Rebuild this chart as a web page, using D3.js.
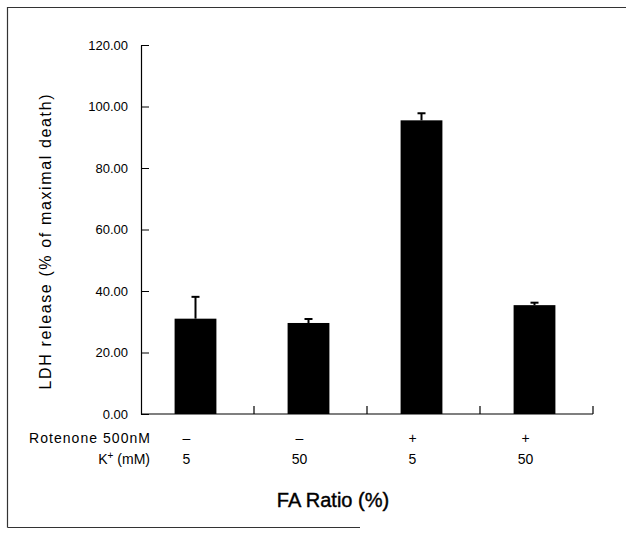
<!DOCTYPE html>
<html>
<head>
<meta charset="utf-8">
<script src="https://cdn.jsdelivr.net/npm/d3@7"></script>
<style>
  body { margin: 0; background: #fff; }
  text { font-family: "Liberation Sans", Arial, sans-serif; fill: #000; }
</style>
</head>
<body>
<div id="chart"></div>
<script>
// data
let groups = ["g1", "g2", "g3", "g4"];
let values = [31.0, 29.6, 95.5, 35.4];
let errors = [7.1, 1.3, 2.3, 0.8];
let rotenone = ["\u2013", "\u2013", "+", "+"];
let potassium = ["5", "50", "5", "50"];
let yTicks = [0, 20, 40, 60, 80, 100, 120];

let W = 626, H = 533;
let margin = {top: 45, left: 141, right: 33, bottom: 119};

let svg = d3.select("#chart").append("svg")
    .attr("width", W)
    .attr("height", H);

// page frame (left, top, partial bottom)
svg.append("path")
    .attr("d", "M7.5,527.5 V7.5 H626 M7.5,527.5 H360")
    .attr("fill", "none")
    .attr("stroke", "#333")
    .attr("stroke-width", 1.2);

// scales
let y = d3.scaleLinear().domain([0, 120]).range([H - margin.bottom, margin.top]);
let x = d3.scaleBand().domain(groups).range([margin.left, W - margin.right]).padding(0);
let barW = x.bandwidth() * 0.37;

// y axis, ticks point inward
let yAxis = svg.append("g")
    .attr("transform", "translate(" + margin.left + ",0)")
    .call(d3.axisLeft(y).tickValues(yTicks).tickSizeInner(-8).tickSizeOuter(0)
        .tickPadding(13).tickFormat(d3.format(".2f")));
yAxis.selectAll("text").style("font-size", "13px");
yAxis.select(".domain").attr("stroke-width", 1.2);

// x axis with upward ticks at group boundaries
let x0 = y(0);
svg.append("line")
    .attr("x1", margin.left).attr("x2", W - margin.right)
    .attr("y1", x0).attr("y2", x0)
    .attr("stroke", "#000").attr("stroke-width", 1.2);
svg.selectAll(".xtick").data(groups).enter().append("line")
    .attr("class", "xtick")
    .attr("x1", d => x(d) + x.step()).attr("x2", d => x(d) + x.step())
    .attr("y1", x0).attr("y2", x0 - 8)
    .attr("stroke", "#000").attr("stroke-width", 1.2);

// bars
let cx = d => x(d) + x.bandwidth() / 2 - 2;
svg.selectAll(".bar").data(groups).enter().append("rect")
    .attr("class", "bar")
    .attr("x", d => cx(d) - barW / 2)
    .attr("width", barW)
    .attr("y", (d, i) => y(values[i]))
    .attr("height", (d, i) => y(0) - y(values[i]))
    .attr("fill", "#000");

// one-sided error bars
let err = svg.selectAll(".err").data(groups).enter().append("g").attr("class", "err");
err.append("line")
    .attr("x1", cx).attr("x2", cx)
    .attr("y1", (d, i) => y(values[i]))
    .attr("y2", (d, i) => y(values[i] + errors[i]))
    .attr("stroke", "#000").attr("stroke-width", 2);
err.append("line")
    .attr("x1", d => cx(d) - 4).attr("x2", d => cx(d) + 4)
    .attr("y1", (d, i) => y(values[i] + errors[i]))
    .attr("y2", (d, i) => y(values[i] + errors[i]))
    .attr("stroke", "#000").attr("stroke-width", 2);

// condition rows under the axis
svg.append("text").attr("x", 150).attr("y", 443)
    .attr("text-anchor", "end").style("font-size", "14px")
    .attr("textLength", 121).attr("lengthAdjust", "spacing")
    .text("Rotenone 500nM");
let kLab = svg.append("text").attr("x", 150).attr("y", 464)
    .attr("text-anchor", "end").style("font-size", "14px");
kLab.append("tspan").text("K");
kLab.append("tspan").attr("dy", -5).style("font-size", "10px").text("+");
kLab.append("tspan").attr("dy", 5).text(" (mM)");

svg.selectAll(".rot").data(groups).enter().append("text")
    .attr("class", "rot")
    .attr("x", d => cx(d) - 9).attr("y", 443)
    .attr("text-anchor", "middle").style("font-size", "14px")
    .text((d, i) => rotenone[i]);
svg.selectAll(".kval").data(groups).enter().append("text")
    .attr("class", "kval")
    .attr("x", d => cx(d) - 9).attr("y", 464)
    .attr("text-anchor", "middle").style("font-size", "14px")
    .text((d, i) => potassium[i]);

// axis titles
svg.append("text")
    .attr("x", 333).attr("y", 507)
    .attr("text-anchor", "middle")
    .style("font-size", "20px")
    .attr("stroke", "#000").attr("stroke-width", 0.4)
    .text("FA Ratio (%)");

svg.append("text")
    .attr("transform", "translate(51,242) rotate(-90)")
    .attr("text-anchor", "middle")
    .style("font-size", "16px")
    .attr("textLength", 295).attr("lengthAdjust", "spacing")
    .text("LDH release (% of maximal death)");
</script>
</body>
</html>
